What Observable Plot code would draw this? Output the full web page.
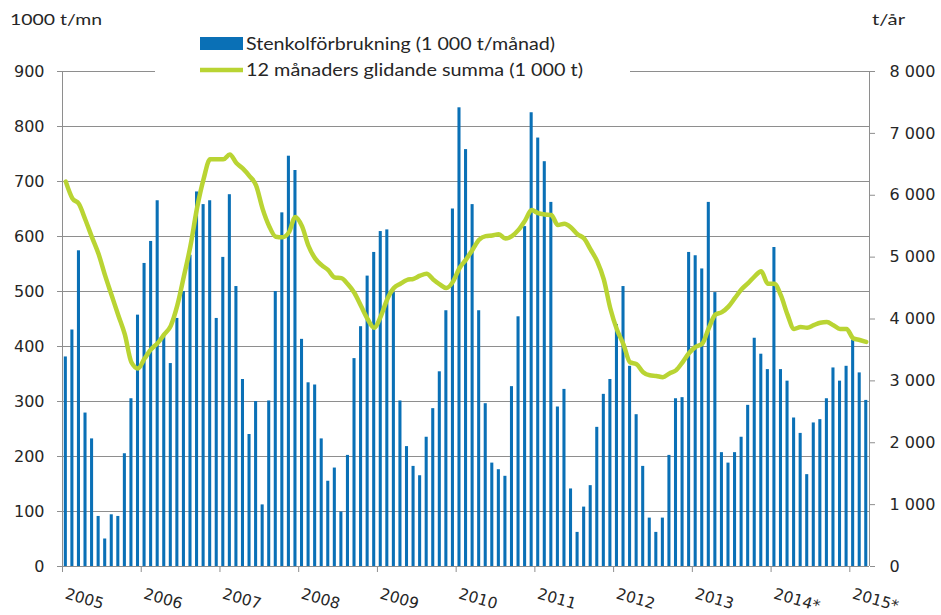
<!DOCTYPE html>
<html>
<head>
<meta charset="utf-8">
<script src="https://cdn.jsdelivr.net/npm/d3@7"></script>
<script src="https://cdn.jsdelivr.net/npm/@observablehq/plot@0.6"></script>
<style>
  html, body { margin: 0; padding: 0; background: #fff; }
  #chart svg { display: block; }
</style>
</head>
<body>
<div id="chart"></div>
<script>
// Monthly hard coal consumption (1 000 t / month), Jan 2005 – Mar 2015
const coal = [
  381, 430, 574, 279, 232, 91, 50, 94, 91, 205, 305, 457,
  551, 591, 665, 418, 369, 451, 500, 566, 681, 658, 665, 451,
  562, 676, 509, 340, 240, 300, 112, 301, 500, 643, 746, 720,
  413, 334, 330, 232, 155, 179, 99, 202, 378, 436, 528, 571,
  609, 612, 498, 301, 218, 182, 165, 235, 287, 354, 465, 650,
  834, 758, 658, 465, 296, 188, 176, 164, 327, 454, 618, 825,
  779, 736, 662, 290, 322, 141, 62, 108, 147, 253, 313, 340,
  440, 509, 364, 276, 182, 88, 62, 88, 202, 305, 307, 571,
  565, 541, 662, 498, 207, 188, 207, 235, 293, 415, 386, 358,
  580, 358, 337, 270, 242, 167, 261, 267, 305, 361, 337, 364,
  412, 352, 302
];
// 12 months moving sum (1 000 t), right axis
const movingSum = [
  6220, 5950, 5860, 5600, 5320, 5050, 4700, 4380, 4060, 3750, 3300, 3200,
  3360, 3510, 3610, 3750, 3890, 4220, 4690, 5180, 5790, 6260, 6580, 6580,
  6580, 6660, 6520, 6430, 6310, 6160, 5780, 5500, 5330, 5320, 5400, 5650,
  5500, 5180, 4980, 4870, 4790, 4670, 4660, 4560, 4420, 4210, 4000, 3860,
  4040, 4320, 4500, 4570, 4630, 4650, 4700, 4730, 4640, 4560, 4500, 4600,
  4820, 4960, 5120, 5280, 5340, 5350, 5370, 5300, 5340, 5440, 5590, 5760,
  5710, 5690, 5680, 5520, 5540, 5480, 5370, 5300, 5120, 4930, 4640, 4170,
  3830, 3590, 3300, 3270, 3140, 3090, 3080, 3060, 3120, 3170, 3300, 3450,
  3550, 3600, 3850, 4070, 4110, 4200, 4340, 4480, 4580, 4690, 4770, 4570,
  4570, 4380, 4070, 3840, 3870, 3860, 3900, 3940, 3950, 3900, 3840, 3840,
  3690, 3660, 3630
];
const yearLabels = ["2005","2006","2007","2008","2009","2010","2011","2012","2013","2014*","2015*"];
const leftTicks = [0, 100, 200, 300, 400, 500, 600, 700, 800, 900];
const rightTicks = [0, 1000, 2000, 3000, 4000, 5000, 6000, 7000, 8000];

const legendLabels = ["Stenkolförbrukning (1 000 t/månad)", "12 månaders glidande summa (1 000 t)"];
const leftUnit = "1000 t/mn";
const rightUnit = "t/år";

const BLUE = "#0A70B6";
const GREEN = "#B9D433";
const GRID = "#8e8e8e";
const TXT = "#262626";
const tickFont = "DejaVu Sans, Verdana, sans-serif";
const textFont = "Lato, 'Open Sans', sans-serif";

const k = 900 / 8000; // right scale -> left scale
const nMonths = coal.length;
const data = coal.map((v, i) => ({i, v, s: movingSum[i]}));
const years = yearLabels.map((label, j) => ({m: j * 12, label}));
const spaced = n => String(n).replace(/\B(?=(\d{3})+(?!\d))/g, "\u00a0");

const W = 941, H = 615;
const chart = Plot.plot({
  width: W, height: H,
  marginLeft: 62, marginRight: 72, marginTop: 71, marginBottom: 49,
  style: {background: "#fff", color: TXT, fontFamily: tickFont},
  x: {domain: [0, nMonths], axis: null},
  y: {domain: [0, 900], axis: null},
  marks: [
    Plot.ruleY(leftTicks, {stroke: GRID, strokeWidth: 1}),
    Plot.ruleX([0, nMonths], {y1: 0, y2: 900, stroke: GRID, strokeWidth: 1}),
    Plot.rectY(data, {x1: d => d.i, x2: d => d.i + 1, y1: 0, y2: "v", fill: BLUE, insetLeft: 1.8, insetRight: 1.7}),
    Plot.line(data, {x: d => d.i + 0.5, y: d => d.s * k, stroke: GREEN, strokeWidth: 4.5, curve: "monotone-x"}),
    Plot.axisY(leftTicks, {anchor: "left", tickSize: 5, tickPadding: 13, fontSize: 16, stroke: GRID, label: null, fontFamily: tickFont}),
    Plot.axisY(rightTicks.map(t => t * k), {anchor: "right", tickSize: 5, tickPadding: 15, fontSize: 16, stroke: GRID, label: null, fontFamily: tickFont, tickFormat: d => spaced(Math.round(d / k))}),
    Plot.axisX(years.map(d => d.m), {anchor: "bottom", tickSize: 6, stroke: GRID, tickFormat: () => "", label: null}),
    Plot.text(years, {x: "m", y: 0, text: "label", rotate: 16, textAnchor: "start", lineAnchor: "middle", dx: 3, dy: 27, fontSize: 15.5, fontFamily: tickFont, fill: TXT})
  ]
});
document.getElementById("chart").appendChild(chart);

// Legend and unit labels
const svg = d3.select(chart);
const g = svg.append("g").attr("text-anchor", "start");
g.append("rect").attr("x", 155).attr("y", 28).attr("width", 475).attr("height", 52).attr("fill", "#fff");
g.append("rect").attr("x", 200).attr("y", 37).attr("width", 43).attr("height", 13).attr("fill", BLUE);
g.append("line").attr("x1", 200).attr("x2", 243).attr("y1", 70).attr("y2", 70).attr("stroke", GREEN).attr("stroke-width", 4.5);
const legendWidths = [309, 337];
g.selectAll("text.leg").data(legendLabels).join("text")
  .attr("class", "leg")
  .attr("x", 246).attr("y", (d, i) => i === 0 ? 44 : 70)
  .attr("dy", "0.35em")
  .attr("text-anchor", "start")
  .attr("textLength", (d, i) => legendWidths[i]).attr("lengthAdjust", "spacingAndGlyphs")
  .attr("font-family", textFont).attr("font-size", 17).attr("fill", TXT)
  .text(d => d);
g.append("text").attr("x", 10).attr("y", 19).attr("dy", "0.35em").attr("text-anchor", "start")
  .attr("textLength", 92).attr("lengthAdjust", "spacingAndGlyphs")
  .attr("font-family", textFont).attr("font-size", 16).attr("fill", TXT).text(leftUnit);
g.append("text").attr("x", 872).attr("y", 19).attr("dy", "0.35em").attr("text-anchor", "start")
  .attr("textLength", 33).attr("lengthAdjust", "spacingAndGlyphs")
  .attr("font-family", textFont).attr("font-size", 16).attr("fill", TXT).text(rightUnit);
</script>
</body>
</html>
